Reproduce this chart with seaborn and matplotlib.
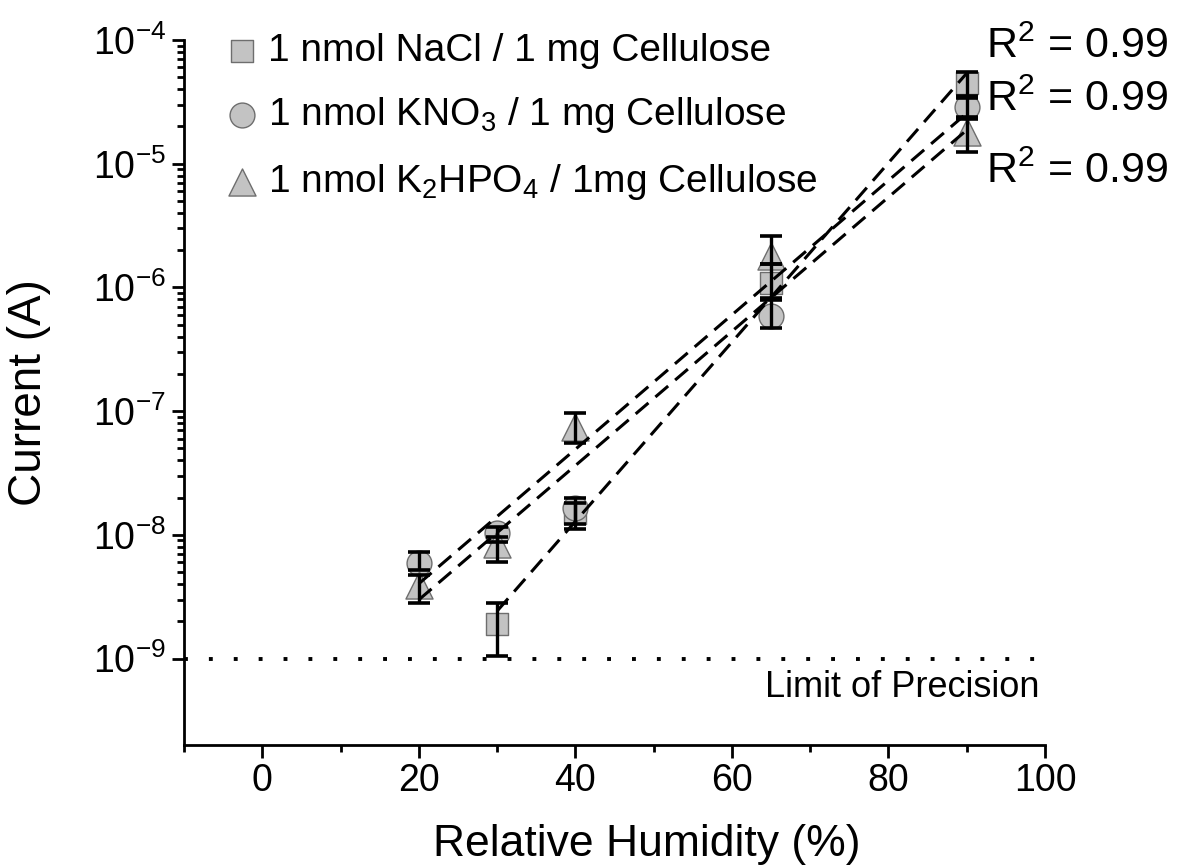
import numpy as np
import pandas as pd
import matplotlib
matplotlib.use("Agg")
import matplotlib.pyplot as plt
import seaborn as sns
from matplotlib.ticker import FixedLocator, MultipleLocator, LogFormatterSciNotation, NullFormatter

# ---------------- data ----------------
humidity_nacl = [30, 40, 65, 90]
current_nacl = [1.9e-9, 1.5e-8, 1.08e-6, 4.5e-5]
low_nacl = [1.04e-9, 1.12e-8, 7.9e-7, 3.4e-5]
high_nacl = [2.8e-9, 1.8e-8, 1.56e-6, 5.5e-5]

humidity_kno3 = [20, 30, 40, 65, 90]
current_kno3 = [5.9e-9, 1.04e-8, 1.65e-8, 5.9e-7, 2.9e-5]
low_kno3 = [5.2e-9, 8.8e-9, 1.23e-8, 4.7e-7, 2.4e-5]
high_kno3 = [7.2e-9, 1.15e-8, 2.0e-8, 8.2e-7, 3.5e-5]

humidity_k2hpo4 = [20, 30, 40, 65, 90]
current_k2hpo4 = [3.9e-9, 8.5e-9, 7.4e-8, 1.8e-6, 1.8e-5]
low_k2hpo4 = [2.8e-9, 6.0e-9, 5.5e-8, 1.56e-6, 1.25e-5]
high_k2hpo4 = [4.7e-9, 9.6e-9, 9.6e-8, 2.6e-6, 2.3e-5]

series_labels = [
    "1 nmol NaCl / 1 mg Cellulose",
    "1 nmol KNO$_3$ / 1 mg Cellulose",
    "1 nmol K$_2$HPO$_4$ / 1mg Cellulose",
]
r2_labels = ["R$^2$ = 0.99", "R$^2$ = 0.99", "R$^2$ = 0.99"]
limit_of_precision = 1e-9
limit_label = "Limit of Precision"
x_label = "Relative Humidity (%)"
y_label = "Current (A)"
y_major = [1e-9, 1e-8, 1e-7, 1e-6, 1e-5, 1e-4]
y_minor = [k * 10.0 ** e for e in range(-9, -4) for k in range(2, 10)]

# ---------------- style ----------------
sns.set_style("ticks")
plt.rcParams["font.family"] = ["Liberation Sans", "DejaVu Sans"]
plt.rcParams["mathtext.fontset"] = "custom"
plt.rcParams["mathtext.rm"] = "Liberation Sans"
plt.rcParams["mathtext.it"] = "Liberation Sans:italic"
plt.rcParams["mathtext.bf"] = "Liberation Sans:bold"
plt.rcParams["axes.linewidth"] = 2.0
for key in ["text.color", "axes.labelcolor", "xtick.color", "ytick.color",
            "axes.edgecolor"]:
    plt.rcParams[key] = "black"

fig = plt.figure(figsize=(11.77, 8.68), dpi=100)
ax = fig.add_axes([0.1563, 0.1417, 0.7315, 0.8122])

FILL = "#c3c3c3"
EDGE = "#6e6e6e"

series = [
    (humidity_nacl, current_nacl, low_nacl, high_nacl, "s", 240),
    (humidity_kno3, current_kno3, low_kno3, high_kno3, "o", 320),
    (humidity_k2hpo4, current_k2hpo4, low_k2hpo4, high_k2hpo4, "^", 380),
]

for (hx, cy, lo, hi, mk, sz), lab in zip(series, series_labels):
    df = pd.DataFrame({"h": hx, "c": cy})
    sns.scatterplot(data=df, x="h", y="c", marker=mk, s=sz, color=FILL,
                    edgecolor=EDGE, linewidth=1.0, label=lab, ax=ax, zorder=2)
    cy_a = np.array(cy)
    yerr = [cy_a - np.array(lo), np.array(hi) - cy_a]
    ax.errorbar(hx, cy, yerr=yerr, fmt="none", ecolor="black", elinewidth=2.4,
                capsize=8, capthick=2.6, zorder=3)
    # exponential fit (linear in log space)
    slope, intercept = np.polyfit(np.array(hx, float), np.log10(cy_a), 1)
    xf = np.array([min(hx), max(hx)], float)
    ax.plot(xf, 10 ** (slope * xf + intercept), color="black", lw=2.2,
            dashes=(5.5, 3.0), zorder=4)

ax.axhline(limit_of_precision, color="black", lw=2.8, linestyle=(0, (1, 5.4)),
           zorder=1)
ax.text(0.994, 0.081, limit_label, transform=ax.transAxes, ha="right",
        va="center", fontsize=26)

ax.set_yscale("log")
ax.set_xlim(-10, 100)
ax.set_ylim(2e-10, 1e-4)
ax.yaxis.set_major_locator(FixedLocator(y_major))
ax.yaxis.set_major_formatter(LogFormatterSciNotation())
ax.yaxis.set_minor_locator(FixedLocator(y_minor))
ax.yaxis.set_minor_formatter(NullFormatter())
ax.xaxis.set_major_locator(MultipleLocator(20))
ax.xaxis.set_minor_locator(MultipleLocator(10))

ax.tick_params(axis="both", which="major", direction="out", length=9,
               width=2.0, labelsize=27, color="black", pad=4)
ax.tick_params(axis="both", which="minor", direction="out", length=5,
               width=2.0, color="black")
for s in ["top", "right"]:
    ax.spines[s].set_visible(False)

ax.set_xlabel(x_label, fontsize=32)
ax.set_ylabel(y_label, fontsize=33)
ax.xaxis.set_label_coords(0.538, -0.112)
ax.yaxis.set_label_coords(-0.155, 0.5)

leg = ax.legend(loc="upper left", bbox_to_anchor=(0.05, 1.01), frameon=False,
                fontsize=28, handlelength=0.75, handletextpad=0.3,
                labelspacing=0.68, borderaxespad=0, borderpad=0)

r2_y = [0.946, 0.885, 0.802]
for ty, lab in zip(r2_y, r2_labels):
    fig.text(0.838, ty, lab, ha="left", va="center", fontsize=31)

fig.savefig("out.png", dpi=100)
